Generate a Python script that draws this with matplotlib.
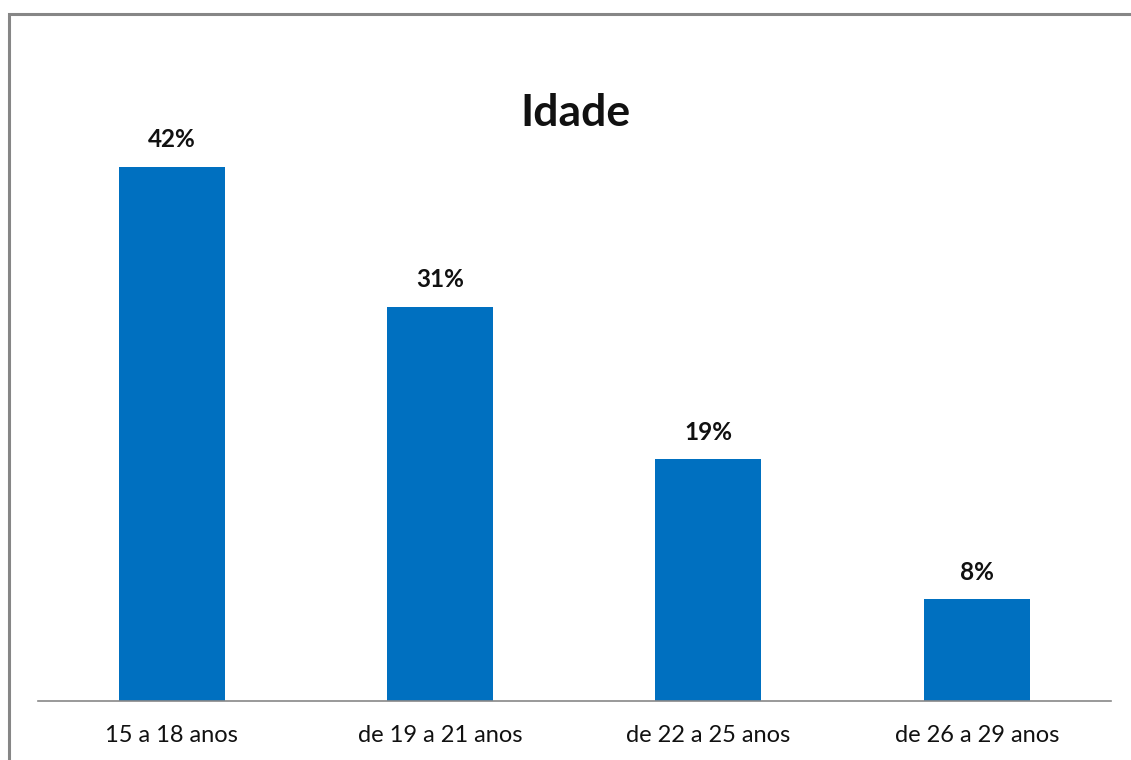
import matplotlib.pyplot as plt
from matplotlib.patches import Rectangle

plt.rcParams['font.family'] = ['Lato', 'DejaVu Sans']

categories = ['15 a 18 anos', 'de 19 a 21 anos', 'de 22 a 25 anos', 'de 26 a 29 anos']
values = [42, 31, 19, 8]
labels = ['42%', '31%', '19%', '8%']

W, H = 1131, 760
fig = plt.figure(figsize=(W / 100, H / 100), dpi=100)

# outer chart border (runs off the right and bottom of the picture)
fig.patches.append(Rectangle((8.5 / W, -0.05), 1.2, (H - 13.5) / H + 0.05,
                             transform=fig.transFigure, fill=False,
                             edgecolor='#868686', linewidth=2.2))

ax = fig.add_axes([37.5 / W, 59 / H, (1111 - 37.5) / W, 572.4 / H])
x = range(len(categories))
ax.bar(x, values, width=0.395, color='#0070C0')
ax.set_xlim(-0.5, 3.5)
ax.set_ylim(0, 45)

for i, v in enumerate(values):
    ax.annotate(labels[i], (i, v), xytext=(0, 11), textcoords='offset points',
                ha='center', va='bottom', fontsize=17.5, fontweight='bold', color='#111111')

ax.set_xticks(list(x))
ax.set_xticklabels(categories, fontsize=17, color='#111111')
ax.tick_params(axis='x', length=0, pad=17)
ax.set_yticks([])
for s in ['top', 'right', 'left']:
    ax.spines[s].set_visible(False)
ax.spines['bottom'].set_color('#888888')
ax.spines['bottom'].set_linewidth(1.2)

fig.text(575 / W, 1 - 113 / H, 'Idade', ha='center', va='center',
         fontsize=32, fontweight='bold', color='#111111')

fig.savefig('out.png', dpi=100)
